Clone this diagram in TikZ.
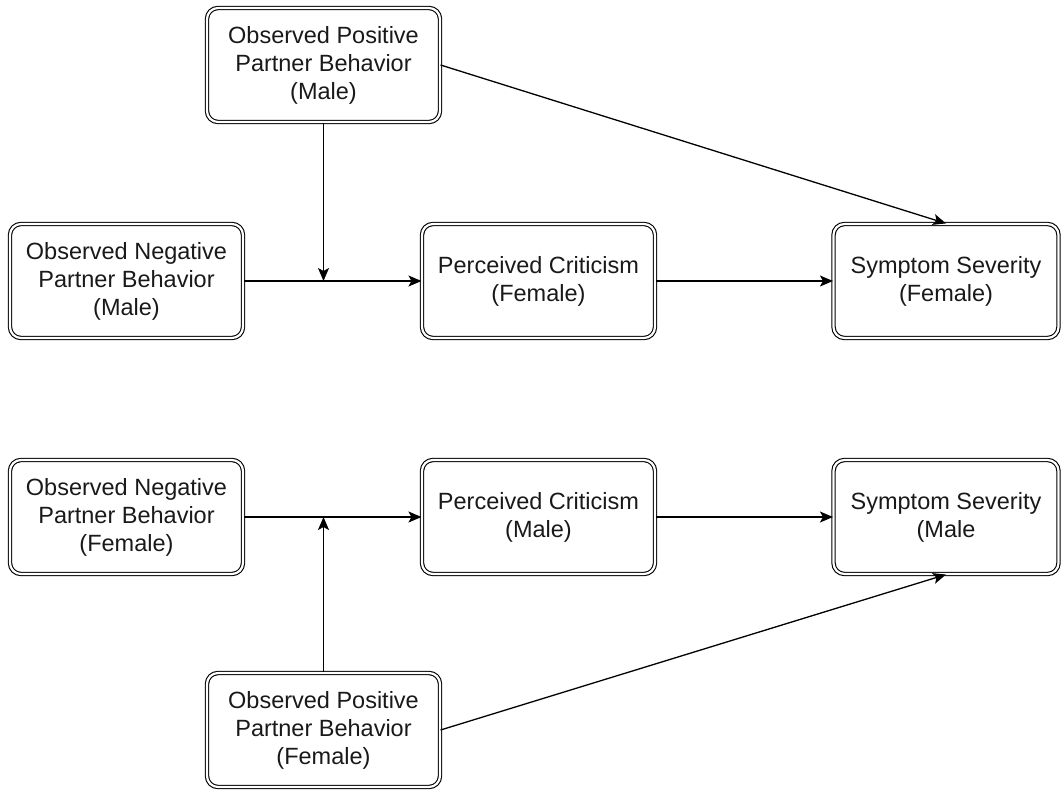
\documentclass[tikz,border=0pt]{standalone}
\usepackage{fontspec}
\setmainfont{Liberation Sans}
\usepackage{tikz}
\usetikzlibrary{arrows.meta}
\tikzstyle{box}=[draw, double, double distance=2.2pt, line width=1.1pt, rounded corners=11pt, align=center, minimum width=233pt, minimum height=114pt, inner sep=2pt, text=black!90, font=\fontsize{23.5}{28}\selectfont]
\tikzstyle{conn}=[line width=1.3pt, -{Stealth[length=13pt, width=11pt, inset=3pt]}]

\begin{document}
\begin{tikzpicture}
        [x=1pt,y=-1pt]
            \useasboundingbox (0,0) rectangle (1061,790);
            % top model
            \node [box] (posm) at (323.5,65) {Observed Positive\\Partner Behavior\\(Male)};
            \node [box] (negm) at (126.5,281) {Observed Negative\\Partner Behavior\\(Male)};
            \node [box] (critf) at (538.5,281) {Perceived Criticism\\(Female)};
            \node [box, minimum width=225pt] (sympf) at (946,281) {Symptom Severity\\(Female)};
            \draw [conn] (negm) -- (critf);
            \draw [conn] (critf) -- (sympf);
            \draw [conn] (posm) -- (posm |- negm.east);
            \draw [conn] (posm.east) -- (sympf.north);
            % bottom model
            \node [box] (negf) at (126.5,517) {Observed Negative\\Partner Behavior\\(Female)};
            \node [box] (critm) at (538.5,517) {Perceived Criticism\\(Male)};
            \node [box, minimum width=225pt] (sympm) at (946,517) {Symptom Severity\\(Male};
            \node [box] (posf) at (323.5,730) {Observed Positive\\Partner Behavior\\(Female)};
            \draw [conn] (negf) -- (critm);
            \draw [conn] (critm) -- (sympm);
            \draw [conn] (posf) -- (posf |- negf.east);
            \draw [conn] (posf.east) -- (sympm.south);
        \end{tikzpicture}
\end{document}
